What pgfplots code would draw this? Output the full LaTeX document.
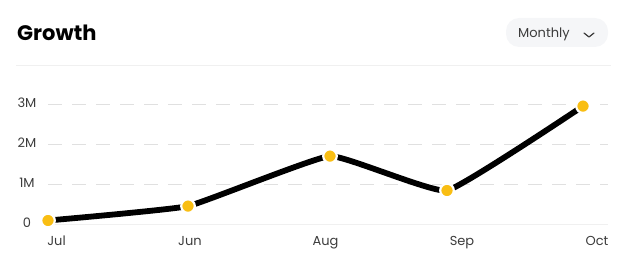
\documentclass[border=0pt]{standalone}
\usepackage{fontspec}
\setmainfont{Poppins}
\usepackage{pgfplots}
\pgfplotsset{compat=1.18}
\definecolor{dotY}{HTML}{F9BE13}
\definecolor{gridC}{HTML}{E0E0E0}
\definecolor{zeroC}{HTML}{F0F0F0}
\definecolor{tickC}{HTML}{3C3C3C}
\definecolor{boxC}{HTML}{F5F6F8}
\begin{document}
\begin{tikzpicture}[x=1pt,y=1pt]
\path[use as bounding box] (0,0) rectangle (621,276);
% header
\node[anchor=base west, inner sep=0pt] at (17,235) {\fontsize{21}{25}\selectfont\bfseries Growth};
\fill[boxC, rounded corners=13pt] (506,229) rectangle (608,258);
\node[anchor=base west, inner sep=0pt, text=tickC] at (518,238) {\fontsize{13}{15}\selectfont Monthly};
\draw[tickC, line width=1.2pt, line cap=round, line join=round] (584,243) -- (589,239) -- (594,243);
\draw[zeroC, line width=1pt] (16,210) -- (611,210);
\begin{axis}[
  at={(48pt,44pt)}, anchor=south west,
  scale only axis, width=560pt, height=166pt,
  xmin=48, xmax=608, ymin=-0.1875, ymax=3.9625,
  clip=false,
  axis line style={draw=none},
  major tick length=0pt,
  xtick={56.5,190,325.5,462,597},
  xticklabels={Jul,Jun,Aug,Sep,Oct},
  ytick={1,2,3},
  yticklabels={1M,2M,3M},
  extra y ticks={0},
  extra y tick labels={0},
  extra y tick style={grid style={solid, zeroC, line width=1pt}},
  ymajorgrids,
  grid style={gridC, line width=1.3pt, dash pattern=on 14pt off 10pt},
  tick label style={font=\fontsize{13}{15}\selectfont, text=tickC},
  /pgf/number format/assume math mode=true,
  xticklabel style={anchor=base, yshift=-13pt},
  yticklabel style={anchor=center, xshift=-21pt, yshift=2pt},
]
\addplot[black, line width=5.8pt, smooth, tension=0.2] coordinates {
  (48,0.1) (188,0.46) (330,1.71) (447,0.85) (583,2.96)
};
\addplot[only marks, mark=*, mark size=6.8pt, mark options={fill=dotY, draw=white, line width=2.2pt}] coordinates {
  (48,0.1) (188,0.46) (330,1.71) (447,0.85) (583,2.96)
};
\end{axis}
\end{tikzpicture}
\end{document}
